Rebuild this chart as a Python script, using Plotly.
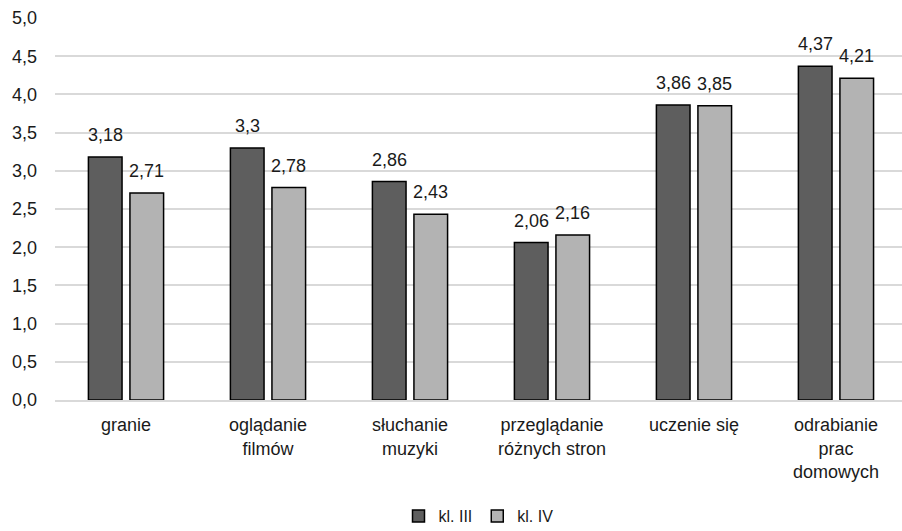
import plotly.graph_objects as go

categories = ["granie", "oglądanie<br>filmów", "słuchanie<br>muzyki",
              "przeglądanie<br>różnych stron", "uczenie się",
              "odrabianie<br>prac<br>domowych"]
series_names = ["kl. III", "kl. IV"]
kl3 = [3.18, 3.3, 2.86, 2.06, 3.86, 4.37]
kl4 = [2.71, 2.78, 2.43, 2.16, 3.85, 4.21]
tick_vals = [0, 0.5, 1, 1.5, 2, 2.5, 3, 3.5, 4, 4.5, 5]
tick_text = ["0,0", "0,5", "1,0", "1,5", "2,0", "2,5", "3,0", "3,5", "4,0", "4,5", "5,0"]

FAM = "Liberation Sans, Arial, sans-serif"
TXT = "#1a1a1a"
font = dict(family=FAM, size=18, color=TXT)

fig = go.Figure()
colors = ["#5e5e5e", "#b3b3b3"]
for name, vals, col in zip(series_names, [kl3, kl4], colors):
    fig.add_trace(go.Bar(
        x=categories, y=vals, name=name,
        marker=dict(color=col, line=dict(color="#000000", width=1.5)),
        cliponaxis=False,
    ))

# data labels above each bar, placed through the axes
annotations = []
for j, vals in enumerate([kl3, kl4]):
    for c, v in zip(categories, vals):
        annotations.append(dict(
            x=c, y=v, xref="x", yref="y",
            text=str(v).replace(".", ","),
            showarrow=False, xanchor="center", yanchor="bottom",
            xshift=(-20.75 if j == 0 else 20.75), yshift=10,
            font=dict(family=FAM, size=18, color=TXT),
        ))

fig.update_layout(
    width=902, height=531,
    margin=dict(l=55, r=0, t=18, b=131),
    plot_bgcolor="white", paper_bgcolor="white",
    font=font,
    barmode="group", bargap=0.415, bargroupgap=0.19,
    showlegend=True,
    annotations=annotations,
    legend=dict(orientation="h", x=0.5, xanchor="center",
                yref="container", y=0.028, yanchor="middle",
                font=dict(family=FAM, size=16, color=TXT), itemwidth=30,
                traceorder="normal"),
    xaxis=dict(showgrid=False, showline=True, linecolor="#d9d9d9", linewidth=1.5,
               ticks="", tickfont=font, automargin=False,
               range=[-0.5, 5.465], ticklabelstandoff=8),
    yaxis=dict(range=[0, 5], tickvals=tick_vals, ticktext=tick_text,
               showgrid=True, gridcolor="#d9d9d9", gridwidth=1.5, zeroline=False,
               showline=False, ticks="", tickfont=font, ticklabelstandoff=17,
               automargin=False),
)

fig.write_html("out.html", config={"displayModeBar": False},
               post_script="document.body.style.margin='0';document.body.style.overflow='hidden';")
